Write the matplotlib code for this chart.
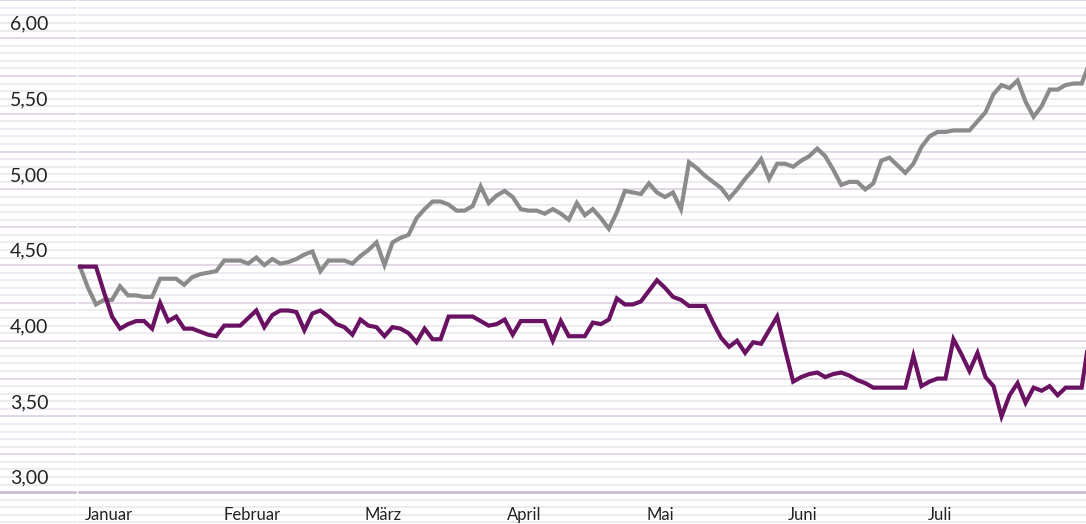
import matplotlib.pyplot as plt
import numpy as np

# values, one per trading-day step
gray_vals = [4.49, 4.35, 4.24, 4.27, 4.27, 4.36, 4.30, 4.30, 4.29, 4.29,
             4.41, 4.41, 4.41, 4.37, 4.42, 4.44, 4.45, 4.46, 4.53, 4.53,
             4.53, 4.51, 4.55, 4.50, 4.54, 4.51, 4.52, 4.54, 4.57, 4.59,
             4.46, 4.53, 4.53, 4.53, 4.51, 4.56, 4.60, 4.65, 4.50, 4.65,
             4.68, 4.70, 4.81, 4.87, 4.92, 4.92, 4.90, 4.86, 4.86, 4.89,
             5.02, 4.91, 4.96, 4.99, 4.95, 4.87, 4.86, 4.86, 4.84, 4.87,
             4.84, 4.80, 4.91, 4.83, 4.87, 4.81, 4.74, 4.85, 4.99, 4.98,
             4.97, 5.04, 4.98, 4.95, 4.98, 4.87, 5.18, 5.14, 5.09, 5.05,
             5.01, 4.94, 5.00, 5.07, 5.13, 5.20, 5.07, 5.17, 5.17, 5.15,
             5.19, 5.22, 5.27, 5.22, 5.13, 5.03, 5.05, 5.05, 5.00, 5.04,
             5.19, 5.21, 5.16, 5.11, 5.17, 5.28, 5.35, 5.38, 5.38, 5.39,
             5.39, 5.39, 5.45, 5.51, 5.63, 5.69, 5.67, 5.72, 5.58, 5.48,
             5.55, 5.66, 5.66, 5.69, 5.70, 5.70, 5.84]

purple_vals = [4.49, 4.49, 4.49, 4.32, 4.16, 4.08, 4.11, 4.13, 4.13, 4.08,
               4.25, 4.13, 4.16, 4.08, 4.08, 4.06, 4.04, 4.03, 4.10, 4.10,
               4.10, 4.15, 4.20, 4.09, 4.17, 4.20, 4.20, 4.19, 4.07, 4.18,
               4.20, 4.16, 4.11, 4.09, 4.04, 4.14, 4.10, 4.09, 4.03, 4.09,
               4.08, 4.05, 3.99, 4.08, 4.01, 4.01, 4.16, 4.16, 4.16, 4.16,
               4.13, 4.10, 4.11, 4.14, 4.04, 4.13, 4.13, 4.13, 4.13, 4.00,
               4.13, 4.03, 4.03, 4.03, 4.12, 4.11, 4.14, 4.28, 4.24, 4.24,
               4.26, 4.33, 4.40, 4.35, 4.29, 4.27, 4.23, 4.23, 4.23, 4.12,
               4.02, 3.96, 4.00, 3.92, 3.99, 3.98, 4.07, 4.16, 3.94, 3.73,
               3.76, 3.78, 3.79, 3.76, 3.78, 3.79, 3.77, 3.74, 3.72, 3.69,
               3.69, 3.69, 3.69, 3.69, 3.90, 3.70, 3.73, 3.75, 3.75, 4.01,
               3.91, 3.80, 3.92, 3.76, 3.70, 3.50, 3.64, 3.72, 3.59, 3.69,
               3.67, 3.70, 3.64, 3.69, 3.69, 3.69, 4.04]

months = ["Januar", "Februar", "März", "April", "Mai", "Juni", "Juli"]
month_pos = [3.6, 21.5, 37.8, 55.4, 72.4, 90.2, 107.3]

y_ticks = [3.0, 3.5, 4.0, 4.5, 5.0, 5.5, 6.0]
y_labels = ["3,00", "3,50", "4,00", "4,50", "5,00", "5,50", "6,00"]

plt.rcParams['font.family'] = ['Lato', 'DejaVu Sans']

fig = plt.figure(figsize=(10.86, 5.24), dpi=100)
ax = fig.add_axes([0, 0, 1, 1])
ax.set_axis_off()
ax.set_xlim(-9.98, 125.54)
ax.set_ylim(2.789, 6.252)

# striped background
for k in range(56, 126):
    v = k * 0.05
    if k == 60:
        ax.axhline(v, color='#c9b4cd', lw=1.8, zorder=1)
    elif k % 5 == 0:
        ax.axhline(v, color='#e2d7e5', lw=1.4, zorder=1)
    else:
        ax.axhline(v, color='#efe9f1', lw=1.4, zorder=1)

# small white gap between label column and plot area
ax.plot([0.0709, 0.0709], [0, 1], transform=ax.transAxes, color='white', lw=1, zorder=2)

x = np.arange(len(gray_vals))
ax.plot(x, gray_vals, color='#8b8b8b', lw=3.0, solid_joinstyle='miter', zorder=3)
ax.plot(x, purple_vals, color='#6a1262', lw=3.0, solid_joinstyle='miter', zorder=4)

for v, lab in zip(y_ticks, y_labels):
    ax.annotate(lab, xy=(0.009, v), xycoords=('axes fraction', 'data'),
                xytext=(0, 6), textcoords='offset points',
                ha='left', va='baseline', fontsize=14, color='#222222')

for p, m in zip(month_pos, months):
    ax.annotate(m, xy=(p, 0.008), xycoords=('data', 'axes fraction'),
                ha='center', va='baseline', fontsize=12, color='#222222')

fig.savefig('out.png', dpi=100)
